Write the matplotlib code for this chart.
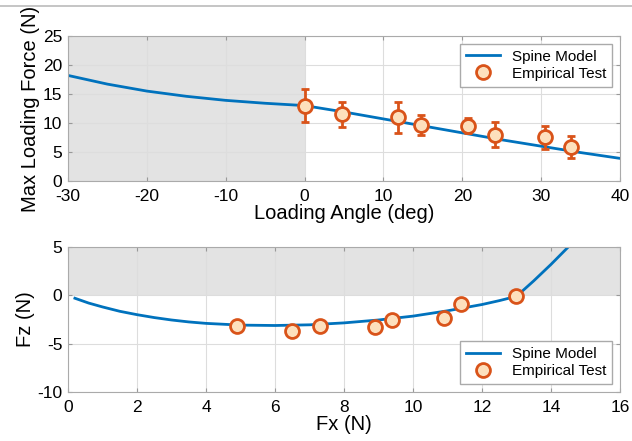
import numpy as np
import matplotlib
matplotlib.use('Agg')
import matplotlib.pyplot as plt
from matplotlib.lines import Line2D

plt.rcParams['font.family'] = ['Liberation Sans', 'DejaVu Sans']
plt.rcParams['axes.unicode_minus'] = False

# top panel: max loading force vs loading angle
model_angle = [-30, -25, -20, -15, -10, -5, 0, 5, 10, 15, 20, 25, 30, 35, 40]
model_force = [18.2, 16.7, 15.5, 14.6, 13.9, 13.4, 13.0, 11.9, 10.7, 9.5, 8.3, 7.1, 6.0, 4.9, 3.9]
test_angle = [0.0, 4.8, 11.8, 14.8, 20.7, 24.2, 30.5, 33.8]
test_force = [13.0, 11.5, 11.0, 9.7, 9.5, 8.0, 7.5, 5.9]
test_err = [2.9, 2.2, 2.7, 1.7, 1.3, 2.2, 2.0, 1.9]

# bottom panel: Fz vs Fx
model_fx = [0.2, 0.6, 1.0, 1.5, 2.0, 2.5, 3.0, 3.5, 4.0, 5.0, 6.0, 7.0, 8.0, 9.0, 10.0,
            11.0, 12.0, 12.5, 13.0, 13.5, 14.0, 14.5]
model_fz = [-0.3, -0.8, -1.2, -1.65, -2.0, -2.3, -2.55, -2.75, -2.9, -3.08, -3.12, -3.05,
            -2.85, -2.55, -2.15, -1.6, -0.95, -0.55, -0.1, 1.5, 3.2, 5.0]
test_fx = [4.9, 6.5, 7.3, 8.9, 9.4, 10.9, 11.4, 13.0]
test_fz = [-3.2, -3.7, -3.2, -3.3, -2.5, -2.3, -0.9, -0.1]

blue = '#0072BD'
orange = '#D95319'
face = '#FDE0BD'
shade = '#E3E3E3'

fig = plt.figure(figsize=(6.32, 4.41), dpi=100)
ax1 = fig.add_axes([0.1076, 0.5896, 0.8734, 0.3288])
ax2 = fig.add_axes([0.1076, 0.1111, 0.8734, 0.3288])

for ax in (ax1, ax2):
    ax.grid(True, color='#DDDDDD', linewidth=0.8)
    ax.set_axisbelow(True)
    ax.tick_params(direction='in', labelsize=12.5, length=3, color='#999999', top=True, right=True)
    ax.tick_params(axis='x', pad=6)
    ax.tick_params(axis='y', pad=4)
    for s in ax.spines.values():
        s.set_color('#AAAAAA')

ax1.axvspan(-30, 0, color=shade, zorder=0.5, lw=0)
ax1.plot(model_angle, model_force, color=blue, lw=2)
ax1.errorbar(test_angle, test_force, yerr=test_err, fmt='o', color=orange, ms=10,
             mfc=face, mec=orange, mew=2, elinewidth=2, capsize=3, capthick=2, zorder=3)
ax1.set_xlim(-30, 40)
ax1.set_ylim(0, 25)
ax1.set_xticks(range(-30, 41, 10))
ax1.set_yticks(range(0, 26, 5))
ax1.set_xlabel('Loading Angle (deg)', fontsize=14.5, labelpad=0)
ax1.set_ylabel('Max Loading Force (N)', fontsize=14.5, labelpad=2)

handles = [Line2D([], [], color=blue, lw=2),
           Line2D([], [], ls='none', marker='o', ms=10, mfc=face, mec=orange, mew=2)]
labels = ['Spine Model', 'Empirical Test']
ax1.legend(handles, labels, loc='upper right', fontsize=11, fancybox=False, framealpha=1,
           edgecolor='#AAAAAA', handlelength=2.2, borderpad=0.4, labelspacing=0.2)

ax2.axhspan(0, 5, color=shade, zorder=0.5, lw=0)
ax2.plot(model_fx, model_fz, color=blue, lw=2)
ax2.plot(test_fx, test_fz, 'o', ms=10, mfc=face, mec=orange, mew=2, zorder=3)
ax2.set_xlim(0, 16)
ax2.set_ylim(-10, 5)
ax2.set_xticks(range(0, 17, 2))
ax2.set_yticks([-10, -5, 0, 5])
ax2.set_xlabel('Fx (N)', fontsize=14.5, labelpad=0)
ax2.set_ylabel('Fz (N)', fontsize=14.5, labelpad=2)
ax2.legend(handles, labels, loc='lower right', fontsize=11, fancybox=False, framealpha=1,
           edgecolor='#AAAAAA', handlelength=2.2, borderpad=0.4, labelspacing=0.2)

fig.add_artist(Line2D([0, 1], [0.986, 0.986], color='#BBBBBB', lw=1.2, transform=fig.transFigure))

fig.savefig('out.png', dpi=100)
